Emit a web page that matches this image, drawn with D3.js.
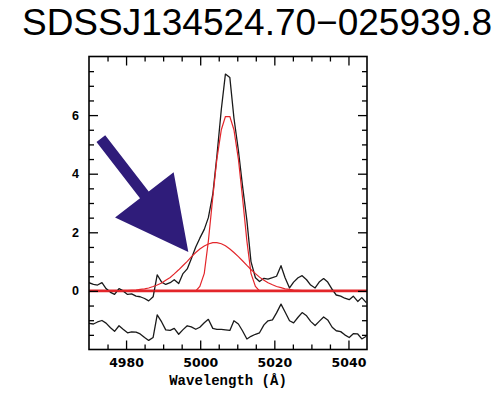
<!DOCTYPE html>
<html>
<head>
<meta charset="utf-8">
<script src="https://cdn.jsdelivr.net/npm/d3@7"></script>
<style>
  body { margin: 0; background: #fff; }
  svg { display: block; }
</style>
</head>
<body>
<svg id="chart" width="500" height="393"></svg>
<script>
// Spectrum sampled on the SDSS pixel grid (Angstrom)
const wavelength = [4970.0, 4971.2, 4972.3, 4973.5, 4974.6, 4975.8, 4976.9, 4978.1, 4979.2, 4980.4,
    4981.5, 4982.7, 4983.8, 4985.0, 4986.1, 4987.3, 4988.4, 4989.6, 4990.7, 4991.9,
    4993.0, 4994.2, 4995.3, 4996.5, 4997.6, 4998.8, 4999.9, 5001.1, 5002.2, 5003.4,
    5004.5, 5005.7, 5006.8, 5008.0, 5009.1, 5010.3, 5011.4, 5012.6, 5013.7, 5014.9,
    5016.0, 5017.2, 5018.3, 5019.5, 5020.6, 5021.8, 5022.9, 5024.1, 5025.2, 5026.4,
    5027.5, 5028.7, 5029.8, 5031.0, 5032.1, 5033.3, 5034.4, 5035.6, 5036.7, 5037.9,
    5039.0, 5040.2, 5041.3, 5042.5, 5043.6, 5044.8];

// observed flux (black, upper)
const flux = [0.28, 0.22, 0.20, 0.28, 0.08, -0.05, -0.12, 0.08, 0.00, -0.12,
    -0.10, -0.18, -0.20, -0.26, -0.34, -0.20, 0.55, 0.30, 0.22, 0.28,
    0.38, 0.25, 0.58, 0.75, 1.10, 1.50, 1.80, 2.10, 2.50, 3.30,
    4.60, 6.20, 7.40, 7.28, 5.90, 4.80, 3.60, 2.40, 1.00, 0.45,
    0.32, 0.43, 0.40, 0.45, 0.50, 0.86, 0.45, 0.10, 0.30, 0.45,
    0.52, 0.38, 0.20, 0.10, 0.30, 0.42, 0.30, 0.05, -0.14, -0.18,
    -0.25, -0.30, -0.18, -0.36, -0.23, -0.40];

// fit residuals, shifted down (black, lower)
const residual = [-1.11, -1.13, -1.06, -1.01, -1.10, -1.26, -1.38, -1.19, -1.31, -1.43,
    -1.40, -1.41, -1.47, -1.59, -1.69, -1.59, -0.82, -1.06, -1.33, -1.35,
    -1.28, -1.48, -1.33, -1.19, -1.23, -1.31, -1.24, -1.09, -0.97, -1.28,
    -1.31, -1.31, -1.33, -1.35, -1.02, -1.13, -1.36, -1.64, -1.55, -1.48,
    -1.43, -1.16, -1.02, -0.99, -0.75, -0.45, -0.72, -1.02, -1.09, -0.90,
    -0.74, -0.85, -1.04, -1.18, -1.04, -0.89, -0.99, -1.24, -1.36, -1.39,
    -1.50, -1.59, -1.46, -1.47, -1.64, -1.55];

// narrow [OIII] component (red)
const narrow = [0, 0, 0, 0, 0, 0, 0, 0, 0, 0,
    0, 0, 0, 0, 0, 0, 0, 0, 0, 0,
    0, 0, 0, 0, 0, 0.00, 0.15, 0.60, 1.70, 3.20,
    4.50, 5.50, 5.95, 5.95, 5.50, 4.50, 3.20, 1.70, 0.60, 0.15,
    0.00, 0, 0, 0, 0, 0, 0, 0, 0, 0,
    0, 0, 0, 0, 0, 0, 0, 0, 0, 0,
    0, 0, 0, 0, 0, 0];

// broad (outflow) component (red)
const broad = [0, 0, 0, 0, 0, 0, 0, 0, 0, 0.01,
    0.02, 0.03, 0.05, 0.07, 0.10, 0.15, 0.20, 0.27, 0.36, 0.46,
    0.58, 0.72, 0.86, 1.01, 1.16, 1.31, 1.43, 1.53, 1.60, 1.645,
    1.645, 1.61, 1.54, 1.43, 1.31, 1.17, 1.03, 0.87, 0.73, 0.59,
    0.47, 0.36, 0.28, 0.21, 0.15, 0.11, 0.07, 0.05, 0.03, 0.02,
    0.01, 0, 0, 0, 0, 0, 0, 0, 0, 0,
    0, 0, 0, 0, 0, 0];

const xMajorTicks = [4980, 5000, 5020, 5040];
const yMajorTicks = [0, 2, 4, 6];
const title = "SDSSJ134524.70\u2212025939.8";
const xTitle = "Wavelength (\u00c5)";

// arrow annotation: [wavelength, flux] of tail and tip
const arrowTail = [4973.2, 5.2];
const arrowTip = [4996.8, 1.33];

const svg = d3.select('#chart');
const frame = { left: 89, right: 367, top: 56.5, bottom: 349.5 };

const x = d3.scaleLinear().domain([4970, 5045]).range([frame.left, frame.right]);
const y = d3.scaleLinear().domain([-2, 8]).range([frame.bottom, frame.top]);

// title
svg.append('text')
    .attr('x', 257).attr('y', 35)
    .attr('text-anchor', 'middle')
    .attr('font-family', 'Liberation Sans, Arial, sans-serif')
    .attr('font-size', 37)
    .attr('fill', '#000')
    .text(title);

const plot = svg.append('g');

// clip curves to the frame
svg.append('defs').append('clipPath').attr('id', 'clip')
    .append('rect')
    .attr('x', frame.left).attr('y', frame.top)
    .attr('width', frame.right - frame.left).attr('height', frame.bottom - frame.top);

const curves = plot.append('g').attr('clip-path', 'url(#clip)');

const lineOf = (vals) => d3.line()
    .x((d, i) => x(wavelength[i]))
    .y((d) => y(d))(vals);

// zero level
curves.append('line')
    .attr('x1', x(4970)).attr('x2', x(5045))
    .attr('y1', y(0)).attr('y2', y(0))
    .attr('stroke', '#e3262b').attr('stroke-width', 2.8);

curves.append('path').attr('d', lineOf(flux))
    .attr('fill', 'none').attr('stroke', '#1a1a1a').attr('stroke-width', 1.3)
    .attr('stroke-linejoin', 'round');

curves.append('path').attr('d', lineOf(residual))
    .attr('fill', 'none').attr('stroke', '#1a1a1a').attr('stroke-width', 1.3)
    .attr('stroke-linejoin', 'round');

curves.append('path').attr('d', lineOf(broad))
    .attr('fill', 'none').attr('stroke', '#e3262b').attr('stroke-width', 1.2);

curves.append('path').attr('d', lineOf(narrow))
    .attr('fill', 'none').attr('stroke', '#e3262b').attr('stroke-width', 1.2);

// ticks on all four sides, pointing inward
const xMinor = d3.range(4975, 5045, 5).filter(v => !xMajorTicks.includes(v));
const yMinor = d3.range(-1.5, 8, 0.5).filter(v => !yMajorTicks.includes(v));

function addAxis(axis, transform, labelled) {
    const g = plot.append('g').attr('transform', transform).call(axis);
    g.select('.domain').remove();
    g.selectAll('line').attr('stroke', '#000').attr('stroke-width', 1.3);
    if (!labelled) g.selectAll('text').remove();
    return g;
}

const bottomMajor = addAxis(d3.axisBottom(x).tickValues(xMajorTicks).tickSize(-9).tickPadding(9).tickFormat(d3.format('d')),
    `translate(0,${frame.bottom})`, true);
bottomMajor.selectAll('text')
    .attr('font-family', 'DejaVu Sans, sans-serif').attr('font-weight', 'bold')
    .attr('font-size', 12.5).attr('fill', '#000');
addAxis(d3.axisBottom(x).tickValues(xMinor).tickSize(-5).tickFormat(''), `translate(0,${frame.bottom})`, false);
addAxis(d3.axisTop(x).tickValues(xMajorTicks).tickSize(-9).tickFormat(''), `translate(0,${frame.top})`, false);
addAxis(d3.axisTop(x).tickValues(xMinor).tickSize(-5).tickFormat(''), `translate(0,${frame.top})`, false);

const leftMajor = addAxis(d3.axisLeft(y).tickValues(yMajorTicks).tickSize(-9).tickPadding(10).tickFormat(d3.format('d')),
    `translate(${frame.left},0)`, true);
leftMajor.selectAll('text')
    .attr('font-family', 'Liberation Sans, Arial, sans-serif').attr('font-weight', 'bold')
    .attr('font-size', 12.5).attr('fill', '#000');
addAxis(d3.axisLeft(y).tickValues(yMinor).tickSize(-5).tickFormat(''), `translate(${frame.left},0)`, false);
addAxis(d3.axisRight(y).tickValues(yMajorTicks).tickSize(-9).tickFormat(''), `translate(${frame.right},0)`, false);
addAxis(d3.axisRight(y).tickValues(yMinor).tickSize(-5).tickFormat(''), `translate(${frame.right},0)`, false);

// frame
plot.append('rect')
    .attr('x', frame.left).attr('y', frame.top)
    .attr('width', frame.right - frame.left).attr('height', frame.bottom - frame.top)
    .attr('fill', 'none').attr('stroke', '#000').attr('stroke-width', 1.6);

// x axis title
svg.append('text')
    .attr('x', 228).attr('y', 385)
    .attr('text-anchor', 'middle')
    .attr('font-family', 'Liberation Mono, Courier New, monospace')
    .attr('font-weight', 'bold')
    .attr('font-size', 14)
    .attr('fill', '#000')
    .text(xTitle);

// arrow pointing at the broad wing
function drawArrow(tail, tip) {
    const x0 = x(tail[0]), y0 = y(tail[1]);
    const x1 = x(tip[0]), y1 = y(tip[1]);
    const len = Math.hypot(x1 - x0, y1 - y0);
    const ux = (x1 - x0) / len, uy = (y1 - y0) / len;
    const px = -uy, py = ux;
    const shaftHalf = 5.5, headHalf = 37, headLen = 72;
    const bx = x1 - ux * headLen, by = y1 - uy * headLen;
    const pts = [
        [x0 + px * shaftHalf, y0 + py * shaftHalf],
        [bx + px * shaftHalf, by + py * shaftHalf],
        [bx + px * headHalf, by + py * headHalf],
        [x1, y1],
        [bx - px * headHalf, by - py * headHalf],
        [bx - px * shaftHalf, by - py * shaftHalf],
        [x0 - px * shaftHalf, y0 - py * shaftHalf]
    ];
    svg.append('polygon')
        .attr('points', pts.map(p => p.join(',')).join(' '))
        .attr('fill', '#2f1c7a');
}
drawArrow(arrowTail, arrowTip);
</script>
</body>
</html>
